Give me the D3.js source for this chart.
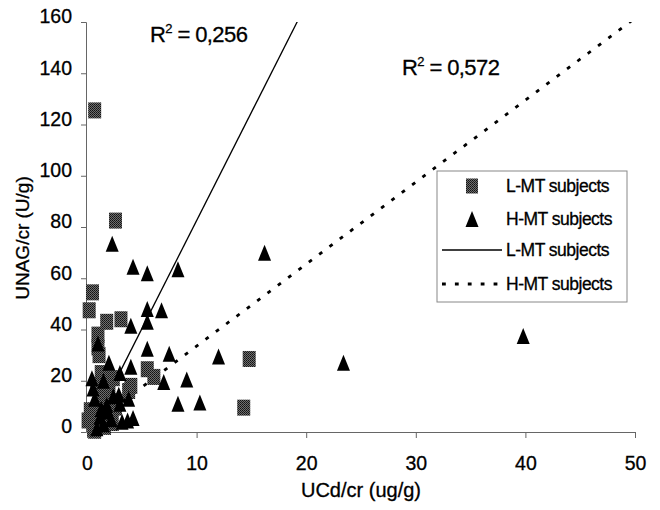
<!DOCTYPE html>
<html>
<head>
<meta charset="utf-8">
<script src="https://cdn.jsdelivr.net/npm/d3@7.9.0/dist/d3.min.js"></script>
<style>
  body { margin: 0; background: #fff; }
  svg { font-family: Arial, "Liberation Sans", sans-serif; }
  svg text { stroke: #000; stroke-width: 0.3px; }
</style>
</head>
<body>
<svg id="chart" width="660" height="510"></svg>
<script>
// L-MT subjects (squares): [UCd/cr, UNAG/cr]
const lmtPoints = [
  [0.7, 125.5], [2.6, 82.5], [0.5, 54.5], [0.2, 47.5], [1.8, 43], [3.1, 44],
  [1.0, 38], [1.0, 33], [1.1, 30], [5.5, 24.5], [6.1, 21.5], [4.0, 18],
  [14.8, 28.5], [14.3, 9.5], [0.9, 17.5], [1.5, 14], [2.0, 17], [2.4, 21],
  [1.3, 23], [0.3, 8.5], [0.1, 4.5], [0.7, 0.5], [2.3, 3.5], [1.2, 10],
  [2.0, 7], [2.5, 12], [3.8, 16], [0.6, 1.5], [1.6, 2], [1.0, 6], [2.6, 9.5]
];
// H-MT subjects (triangles)
const hmtPoints = [
  [2.3, 73.5], [4.2, 64.5], [5.5, 62], [8.3, 63.5], [16.2, 70], [5.5, 48],
  [6.8, 47.5], [4.0, 41.5], [5.5, 43], [5.5, 32.5], [7.5, 30.5], [12.0, 29.5],
  [23.4, 27], [39.8, 37.5], [1.0, 34.5], [2.0, 27], [4.0, 25.5], [0.45, 21],
  [1.5, 20], [3.0, 23], [7.0, 19.5], [9.1, 20.5], [2.9, 14.5], [3.8, 13],
  [0.7, 13], [8.3, 11], [10.3, 11.5], [3.2, 4], [4.2, 5.5], [3.7, 4.5],
  [0.55, 17], [2.4, 14], [1.8, 10.5], [3.0, 11], [1.2, 6], [1.9, 8],
  [1.5, 3], [2.2, 5], [0.9, 1.5], [1.3, 9]
];
// trend lines: [slope, intercept], and x extent
const lmtFit = [8.45, -2];
const hmtFit = [3.2, 1.5];
const lmtLineX = [0.3, 20];
const hmtLineX = [0.45, 50];
const r2Values = ["0,256", "0,572"];
const xTicks = [0, 10, 20, 30, 40, 50];
const yTicks = [0, 20, 40, 60, 80, 100, 120, 140, 160];
const legendLabels = ["L-MT subjects", "H-MT subjects", "L-MT subjects", "H-MT subjects"];

const svg = d3.select('#chart');

const x = d3.scaleLinear().domain([0, 50]).range([87, 635]);
const y = d3.scaleLinear().domain([0, 160]).range([432, 22]);

// dithered grey fill like the scanned squares
const defs = svg.append('defs');
const pat = defs.append('pattern').attr('id', 'dither')
  .attr('width', 2).attr('height', 2).attr('patternUnits', 'userSpaceOnUse');
pat.append('rect').attr('width', 2).attr('height', 2).attr('fill', '#6e6e6e');
pat.append('rect').attr('width', 1).attr('height', 1).attr('fill', '#111');
pat.append('rect').attr('x', 1).attr('y', 1).attr('width', 1).attr('height', 1).attr('fill', '#222');

defs.append('clipPath').attr('id', 'plotclip')
  .append('rect').attr('x', 60).attr('y', 22).attr('width', 600).attr('height', 420);

// axes
const yAxis = svg.append('g')
  .attr('transform', `translate(${x(0) - 1},0)`)
  .call(d3.axisLeft(y).tickValues(yTicks).tickSize(5).tickPadding(9));
const xAxis = svg.append('g')
  .attr('transform', `translate(0,${y(0)})`)
  .call(d3.axisBottom(x).tickValues(xTicks).tickSize(6).tickPadding(18));

[yAxis, xAxis].forEach(a => {
  a.select('.domain').attr('stroke', '#666');
  a.selectAll('.tick line').attr('stroke', '#666');
  a.selectAll('.tick text').attr('fill', '#000').attr('font-size', 19.5)
    .attr('font-family', 'Arial, "Liberation Sans", sans-serif');
});
yAxis.selectAll('.tick text').attr('dy', '0.05em');

// axis titles
svg.append('text')
  .attr('transform', 'translate(29,238) rotate(-90)')
  .attr('text-anchor', 'middle').attr('font-size', 19)
  .text('UNAG/cr (U/g)');
svg.append('text')
  .attr('x', 361).attr('y', 497)
  .attr('text-anchor', 'middle').attr('font-size', 20)
  .text('UCd/cr (ug/g)');

// trend lines
const plot = svg.append('g').attr('clip-path', 'url(#plotclip)');
const line = d3.line().x(d => x(d[0])).y(d => y(d[1]));

plot.append('path')
  .datum(lmtLineX.map(v => [v, lmtFit[0] * v + lmtFit[1]]))
  .attr('d', line).attr('fill', 'none')
  .attr('stroke', '#000').attr('stroke-width', 1.3);

plot.append('path')
  .datum(hmtLineX.map(v => [v, hmtFit[0] * v + hmtFit[1]]))
  .attr('d', line).attr('fill', 'none')
  .attr('stroke', '#000').attr('stroke-width', 2.8)
  .attr('stroke-dasharray', '3.8,9.1');

// markers
const triPath = 'M0,-8L6.5,8L-6.5,8Z';

svg.append('g').selectAll('rect')
  .data(lmtPoints)
  .join('rect')
  .attr('x', d => x(d[0]) - 6.5)
  .attr('y', d => y(d[1]) - 8)
  .attr('width', 13).attr('height', 16)
  .attr('fill', 'url(#dither)');

svg.append('g').selectAll('path')
  .data(hmtPoints)
  .join('path')
  .attr('d', triPath)
  .attr('transform', d => `translate(${x(d[0])},${y(d[1])})`)
  .attr('fill', '#000');

// R-squared labels
const r2Pos = [[150, 42], [402, 75]];
r2Values.forEach((v, i) => {
  const t = svg.append('text')
    .attr('x', r2Pos[i][0]).attr('y', r2Pos[i][1])
    .attr('font-size', 22).attr('letter-spacing', -0.6);
  t.append('tspan').text('R');
  t.append('tspan').attr('font-size', 13).attr('dy', -9).text('2');
  t.append('tspan').attr('dy', 9).text(' = ' + v);
});

// legend
const lg = svg.append('g');
lg.append('rect')
  .attr('x', 437).attr('y', 171).attr('width', 190).attr('height', 131)
  .attr('fill', '#fff').attr('stroke', '#888').attr('stroke-width', 1);

const rowY = [186, 219, 250, 284];
lg.append('rect').attr('x', 466).attr('y', rowY[0] - 7.5)
  .attr('width', 12).attr('height', 15).attr('fill', 'url(#dither)');
lg.append('path').attr('d', triPath)
  .attr('transform', `translate(472,${rowY[1]})`).attr('fill', '#000');
lg.append('line').attr('x1', 442).attr('x2', 502)
  .attr('y1', rowY[2]).attr('y2', rowY[2])
  .attr('stroke', '#000').attr('stroke-width', 1.3);
lg.append('line').attr('x1', 442).attr('x2', 502)
  .attr('y1', rowY[3]).attr('y2', rowY[3])
  .attr('stroke', '#000').attr('stroke-width', 2.8)
  .attr('stroke-dasharray', '3.8,9.1');

legendLabels.forEach((s, i) => {
  lg.append('text')
    .attr('x', 506).attr('y', rowY[i] + 6)
    .attr('font-size', 17.5).attr('letter-spacing', -0.5)
    .text(s);
});
</script>
</body>
</html>
